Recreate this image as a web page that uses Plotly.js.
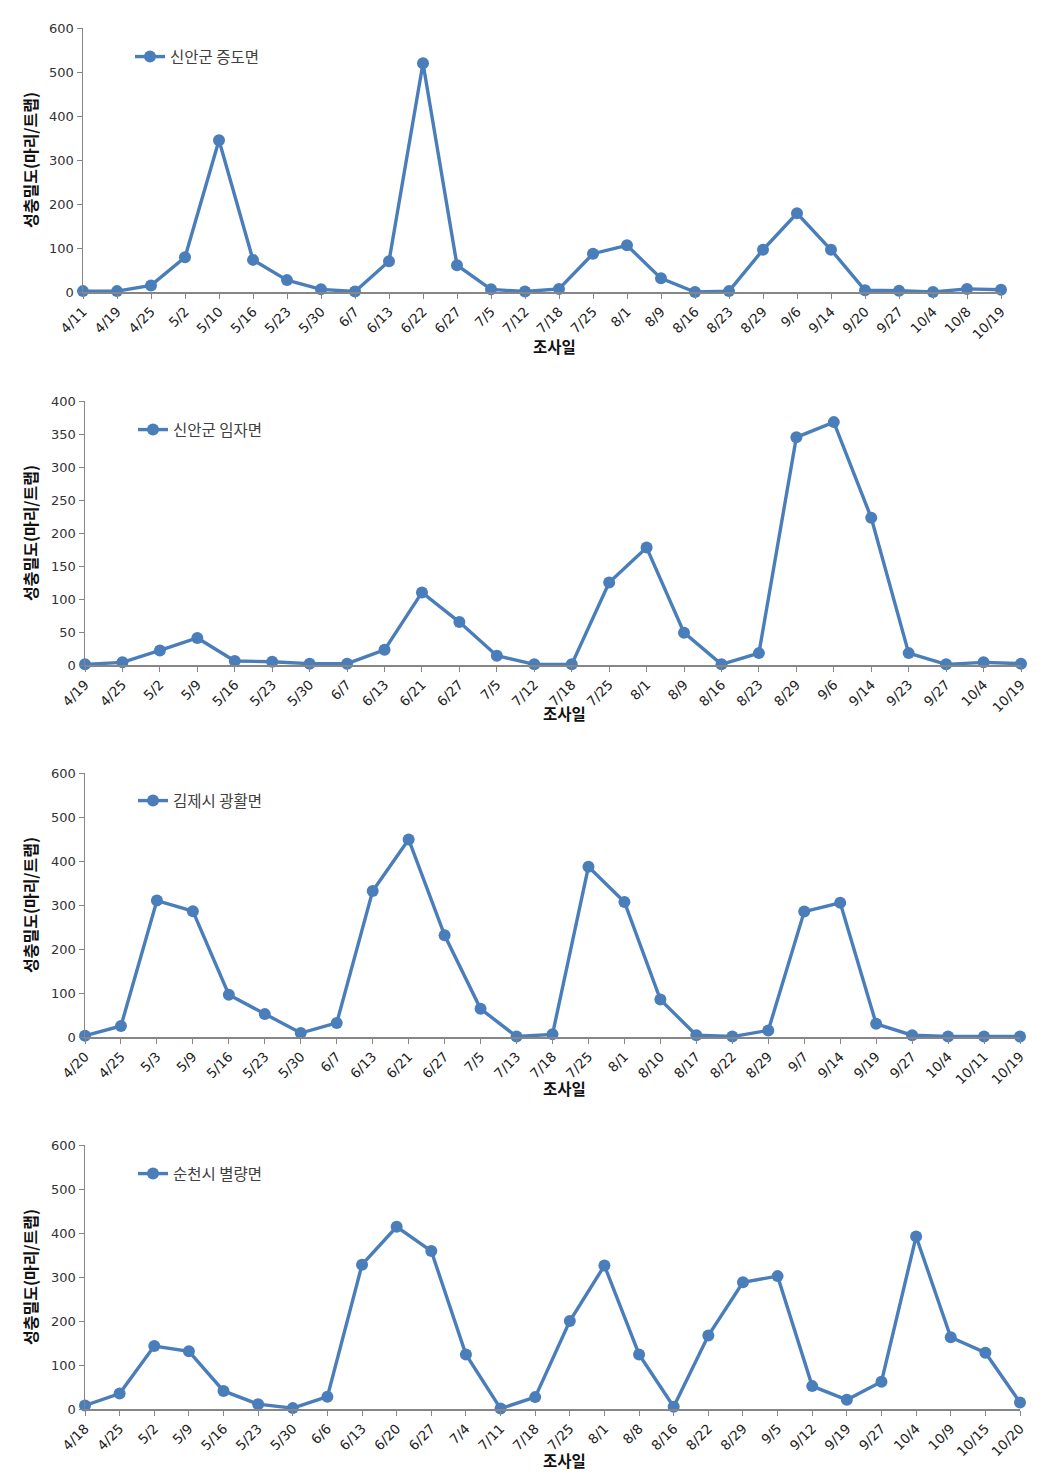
<!DOCTYPE html>
<html>
<head>
<meta charset="utf-8">
<script src="https://cdn.plot.ly/plotly-3.0.1.min.js"></script>
<style>
html,body{margin:0;padding:0;background:#fff;}
#chart{width:1050px;height:1482px;}
</style>
</head>
<body>
<div id="chart"></div>
<script>
// ---- Data ----
const names = ["신안군 증도면", "신안군 임자면", "김제시 광활면", "순천시 별량면"];

const dates1 = ["4/11","4/19","4/25","5/2","5/10","5/16","5/23","5/30","6/7","6/13","6/22","6/27","7/5","7/12","7/18","7/25","8/1","8/9","8/16","8/23","8/29","9/6","9/14","9/20","9/27","10/4","10/8","10/19"];
const vals1 = [2,2,15,79,345,73,27,6,1,70,520,61,6,1,7,87,106,31,0,2,96,179,96,4,3,0,7,5];

const dates2 = ["4/19","4/25","5/2","5/9","5/16","5/23","5/30","6/7","6/13","6/21","6/27","7/5","7/12","7/18","7/25","8/1","8/9","8/16","8/23","8/29","9/6","9/14","9/23","9/27","10/4","10/19"];
const vals2 = [1,4,22,41,6,5,2,2,23,110,65,14,1,1,125,178,49,1,18,345,368,223,18,1,4,2];

const dates3 = ["4/20","4/25","5/3","5/9","5/16","5/23","5/30","6/7","6/13","6/21","6/27","7/5","7/13","7/18","7/25","8/1","8/10","8/17","8/22","8/29","9/7","9/14","9/19","9/27","10/4","10/11","10/19"];
const vals3 = [3,25,310,286,96,52,9,32,332,449,231,64,1,6,387,307,85,4,1,15,285,305,30,4,1,1,1];

const dates4 = ["4/18","4/25","5/2","5/9","5/16","5/23","5/30","6/6","6/13","6/20","6/27","7/4","7/11","7/18","7/25","8/1","8/8","8/16","8/22","8/29","9/5","9/12","9/19","9/27","10/4","10/9","10/15","10/20"];
const vals4 = [8,35,143,131,41,11,2,28,328,414,359,124,1,27,200,326,124,5,167,288,302,52,21,62,392,163,128,15];

const yMax = [600, 400, 600, 600];
const yStep = [100, 50, 100, 100];
const yTitle = "성충밀도(마리/트랩)";
const xTitle = "조사일";

// ---- Layout geometry (pixels) ----
const W = 1050, H = 1482;
const boxes = [
  {x0: 83, x1: 1001, top: 28, bottom: 292, legY: 57, legX: 130, xtY: 346, xtX: 554},
  {x0: 85, x1: 1021, top: 401, bottom: 665, legY: 430, legX: 133, xtY: 713, xtX: 564},
  {x0: 85, x1: 1020, top: 773, bottom: 1037, legY: 801, legX: 133, xtY: 1088, xtX: 564},
  {x0: 85, x1: 1020, top: 1145, bottom: 1409, legY: 1174, legX: 133, xtY: 1460, xtX: 564}
];

const allDates = [dates1, dates2, dates3, dates4];
const allVals = [vals1, vals2, vals3, vals4];

const color = "#4A7EBB";
const axisGray = "#868686";
const font = "DejaVu Sans, Noto Sans CJK KR, sans-serif";
const kfont = "Noto Sans CJK KR, sans-serif";

const traces = [];
const layout = {
  width: W, height: H,
  margin: {l: 0, r: 0, t: 0, b: 0},
  paper_bgcolor: "#fff", plot_bgcolor: "#fff",
  showlegend: true,
  annotations: []
};

for (let i = 0; i < 4; i++) {
  const sfx = i === 0 ? "" : String(i + 1);
  const b = boxes[i];
  const legName = "legend" + sfx;
  traces.push({
    type: "scatter", mode: "lines+markers",
    x: allDates[i], y: allVals[i],
    name: names[i],
    xaxis: "x" + sfx, yaxis: "y" + sfx,
    legend: legName,
    line: {color: color, width: 3.4},
    marker: {color: color, size: 12},
    cliponaxis: false
  });
  layout["xaxis" + sfx] = {
    type: "category",
    domain: [b.x0 / W, b.x1 / W],
    anchor: "y" + sfx,
    range: [0, allDates[i].length - 1],
    showgrid: false, zeroline: false,
    showline: true, linecolor: axisGray, linewidth: 1.5,
    ticks: "outside", ticklen: 5, tickcolor: axisGray, tickwidth: 1,
    tickangle: -45,
    tickfont: {family: font, size: 13.5, color: "#222"},
    fixedrange: true
  };
  layout["yaxis" + sfx] = {
    domain: [1 - b.bottom / H, 1 - b.top / H],
    anchor: "x" + sfx,
    range: [0, yMax[i]],
    dtick: yStep[i], tick0: 0,
    showgrid: false, zeroline: false,
    showline: true, linecolor: axisGray, linewidth: 1.5,
    ticks: "outside", ticklen: 5, tickcolor: axisGray, tickwidth: 1,
    tickfont: {family: font, size: 13, color: "#333"},
    fixedrange: true
  };
  layout[legName] = {
    x: b.legX / W, y: 1 - b.legY / H,
    xanchor: "left", yanchor: "middle",
    bgcolor: "rgba(0,0,0,0)",
    font: {family: kfont, size: 15.5, color: "#404040"},
    itemwidth: 30
  };
  layout.annotations.push({
    text: yTitle, xref: "paper", yref: "paper",
    x: 30 / W, y: 1 - ((b.top + b.bottom) / 2) / H,
    textangle: -90, showarrow: false,
    xanchor: "center", yanchor: "middle",
    font: {family: kfont, size: 16, color: "#111", weight: 700}
  });
  layout.annotations.push({
    text: xTitle, xref: "paper", yref: "paper",
    x: b.xtX / W, y: 1 - b.xtY / H,
    showarrow: false, xanchor: "center", yanchor: "middle",
    font: {family: kfont, size: 15.5, color: "#111", weight: 700}
  });
}

Plotly.newPlot("chart", traces, layout, {displayModeBar: false, staticPlot: true});
</script>
</body>
</html>
